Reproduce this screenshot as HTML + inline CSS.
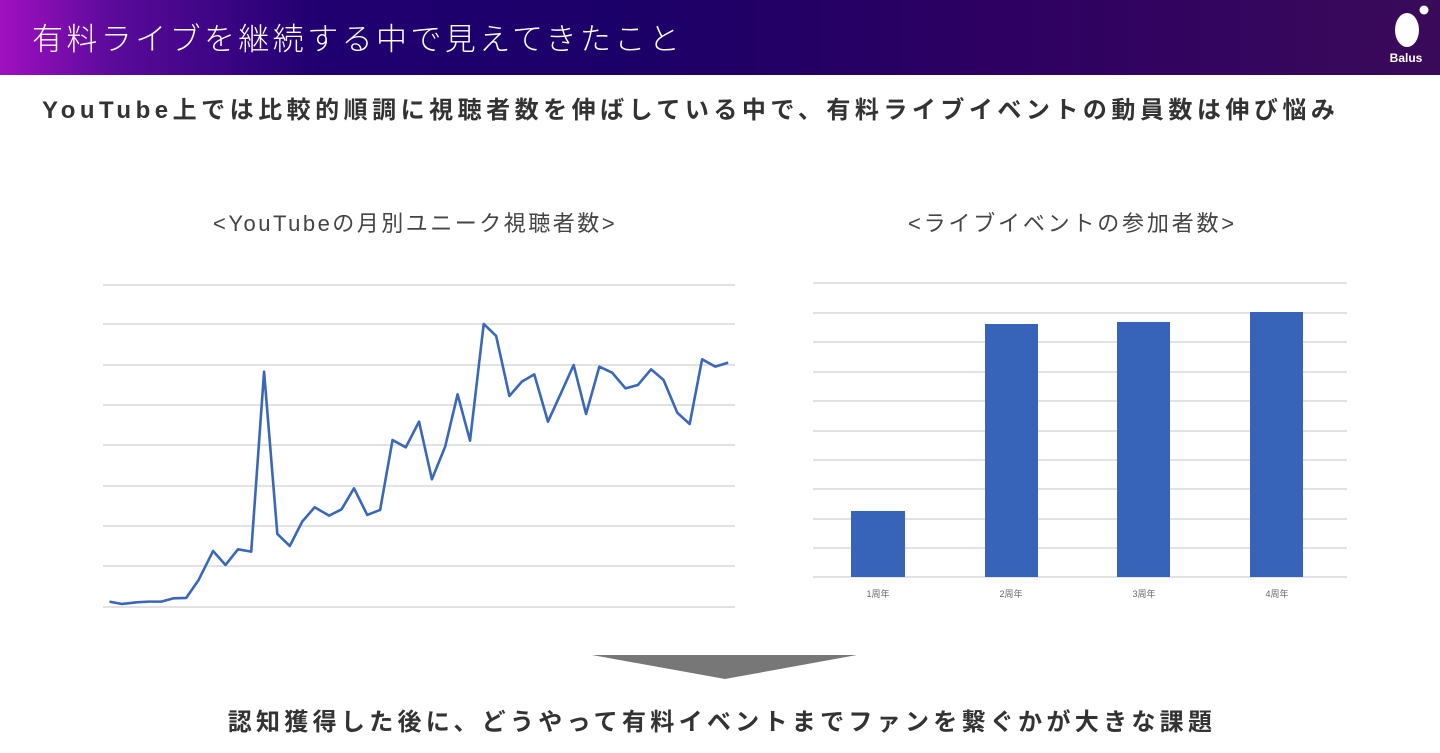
<!DOCTYPE html>
<html><head><meta charset="utf-8"><style>
*{margin:0;padding:0;box-sizing:border-box}
body{width:1440px;height:753px;background:#fff;position:relative;overflow:hidden;font-family:"Liberation Sans","Noto Sans CJK JP",sans-serif}
.hdr{position:absolute;left:0;top:0;width:1440px;height:75px;background:linear-gradient(90deg,#a010c0 0%,#5a0a9a 8%,#200070 22%,#1c0068 45%,#2e0062 70%,#3a0a5a 100%)}
.hdr .t{position:absolute;left:32px;top:14px;color:#fff;font-size:31px;font-family:"Noto Sans CJK JP",sans-serif;font-weight:300;letter-spacing:3.4px}
.t2{position:absolute;white-space:nowrap;font-family:"Liberation Sans","Noto Sans CJK JP",sans-serif}
</style></head><body>
<div class="hdr"><div class="t">有料ライブを継続する中で見えてきたこと</div>
<svg style="position:absolute;left:1380px;top:2px" width="60" height="70">
<ellipse cx="27" cy="28" rx="12" ry="17" fill="#fff"/><circle cx="44" cy="8" r="4.5" fill="#fff"/>
<text x="26" y="60" fill="#fff" font-size="12" font-weight="bold" text-anchor="middle" font-family="Liberation Sans,sans-serif">Balus</text></svg>
</div>
<div class="t2" style="left:42px;top:90px;font-size:24px;font-weight:bold;color:#333;letter-spacing:4.5px">YouTube上では比較的順調に視聴者数を伸ばしている中で、有料ライブイベントの動員数は伸び悩み</div>
<div class="t2" style="left:213px;top:206px;font-size:22px;color:#444;letter-spacing:2.5px">&lt;YouTubeの月別ユニーク視聴者数&gt;</div>
<div class="t2" style="left:908px;top:206px;font-size:22px;color:#444;letter-spacing:2.8px">&lt;ライブイベントの参加者数&gt;</div>
<svg style="position:absolute;left:0;top:0" width="1440" height="753">
<g stroke="#d9d9d9" stroke-width="1.5">
<line x1="103" x2="735" y1="285" y2="285"/><line x1="103" x2="735" y1="324" y2="324"/><line x1="103" x2="735" y1="365" y2="365"/><line x1="103" x2="735" y1="405" y2="405"/><line x1="103" x2="735" y1="445" y2="445"/><line x1="103" x2="735" y1="486" y2="486"/><line x1="103" x2="735" y1="526" y2="526"/><line x1="103" x2="735" y1="566" y2="566"/><line x1="103" x2="735" y1="607" y2="607"/>
<line x1="813" x2="1347" y1="283" y2="283"/><line x1="813" x2="1347" y1="313" y2="313"/><line x1="813" x2="1347" y1="342" y2="342"/><line x1="813" x2="1347" y1="372" y2="372"/><line x1="813" x2="1347" y1="401" y2="401"/><line x1="813" x2="1347" y1="431" y2="431"/><line x1="813" x2="1347" y1="460" y2="460"/><line x1="813" x2="1347" y1="489" y2="489"/><line x1="813" x2="1347" y1="519" y2="519"/><line x1="813" x2="1347" y1="548" y2="548"/><line x1="813" x2="1347" y1="577" y2="577"/>
</g>
<g transform="translate(95,270) scale(0.4144,0.3333)">
<polyline fill="none" stroke="#3a67b8" stroke-width="2.6" vector-effect="non-scaling-stroke" stroke-linejoin="round" points="35,995 65,1002 100,997 130,995 160,995 190,985 220,984 250,930 285,843 315,885 345,838 377,845 408,305 440,792 470,828 500,755 530,712 565,737 595,718 625,655 657,735 688,720 718,510 750,532 782,455 813,628 845,530 875,373 905,512 938,162 968,198 1000,378 1030,335 1060,313 1093,455 1125,368 1155,285 1185,432 1217,290 1248,308 1280,355 1310,345 1342,298 1372,330 1405,428 1435,462 1465,268 1497,290 1528,278"/>
</g>
<g fill="#3764b8">
<rect x="851" y="511" width="54" height="66"/><rect x="985" y="324" width="53" height="253"/><rect x="1117" y="322" width="53" height="255"/><rect x="1250" y="312" width="53" height="265"/>
</g>
<g font-size="9" fill="#666" text-anchor="middle" font-family="Liberation Sans,Noto Sans CJK JP,sans-serif">
<text x="878" y="597">1周年</text><text x="1011" y="597">2周年</text><text x="1144" y="597">3周年</text><text x="1277" y="597">4周年</text></g>
<polygon points="592,655 857,655 725,679" fill="#777"/>
</svg>
<div class="t2" style="left:0;width:1444px;text-align:center;top:702px;font-size:24px;font-weight:bold;color:#333;letter-spacing:4.3px">認知獲得した後に、どうやって有料イベントまでファンを繋ぐかが大きな課題</div>
</body></html>
